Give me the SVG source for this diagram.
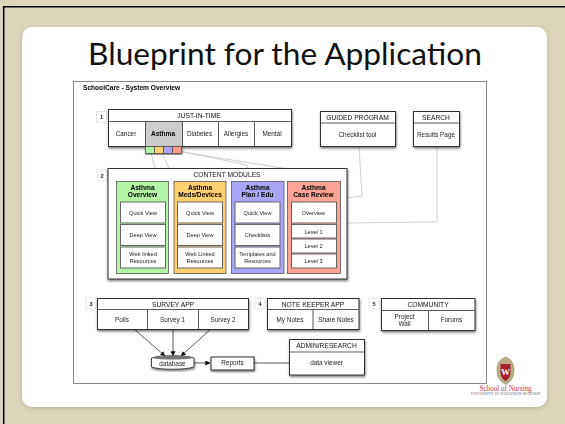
<svg xmlns="http://www.w3.org/2000/svg" width="565" height="424" viewBox="0 0 565 424">
<style>
text{font-family:"Liberation Sans",Arial,sans-serif;fill:#111;text-anchor:middle}
.t{font-size:6.7px}.s{font-size:5.6px;fill:#222}.m{font-size:6.4px;fill:#222}.b{font-size:6.6px;font-weight:bold;fill:#000}
.box{fill:#fff;stroke:#333;stroke-width:1}
.sh{filter:url(#ds)}
.in{fill:#fff;stroke:#666;stroke-width:1}
.ln{fill:none;stroke:#333;stroke-width:.8}
.cn{fill:none;stroke:#c4c4c4;stroke-width:.8}
.badge{fill:#fff;stroke:#ddd;stroke-width:.8}
</style>
<defs>
<filter id="ds" x="-10%" y="-10%" width="120%" height="130%"><feDropShadow dx="0.5" dy="1.5" stdDeviation="1" flood-color="#000" flood-opacity=".55"/></filter>
<filter id="card" x="-5%" y="-5%" width="110%" height="110%"><feDropShadow dx="0" dy="1" stdDeviation="2.5" flood-color="#8d8672" flood-opacity=".5"/></filter>
<filter id="soft"><feGaussianBlur stdDeviation=".25"/></filter>
<marker id="ah" viewBox="0 0 8 8" refX="7.5" refY="4" markerWidth="5" markerHeight="5" markerUnits="userSpaceOnUse" orient="auto"><path d="M0 0L8 4L0 8z" fill="#111"/></marker>
</defs>
<rect width="565" height="424" fill="#ddd6bd"/>
<path d="M3.700 424V6.700H565" fill="none" stroke="#000" stroke-width="1.500"/>
<rect x="22" y="27" width="525" height="380" rx="10" fill="#fff" filter="url(#card)"/>
<text x="285" y="65" style="font-family:Lato,'Open Sans',sans-serif;font-size:30px;fill:#111" textLength="394" lengthAdjust="spacingAndGlyphs">Blueprint for the Application</text>
<g filter="url(#soft)">
<rect id="frame" x="73.500" y="81.500" width="413" height="302" fill="#fff" stroke="#888" stroke-width="1"/>
<text x="83" y="90" class="b" style="text-anchor:start">SchoolCare - System Overview</text>
<g id="connectors">
<path class="cn" d="M151 153L157 176L155 181"/>
<path class="cn" d="M162 153L175 181"/>
<path class="cn" d="M180 151L247 165L248 181"/>
<path class="cn" d="M182 152L326 175L325 181"/>
<path class="cn" d="M359 146L362 196L347 198"/>
<path class="cn" d="M437 146V222L347 223"/>
<path class="ln" d="M134 329L165 356" marker-end="url(#ah)"/>
<path class="ln" d="M173 329V356" marker-end="url(#ah)"/>
<path class="ln" d="M211 329L181 356" marker-end="url(#ah)"/>
<path class="ln" d="M194 363H210" marker-end="url(#ah)"/>
<path class="ln" d="M254 363H289"/>
</g>
<g id="just-in-time">
<rect class="badge" x="96.500" y="111.500" width="10" height="11"/><text class="s" x="101.500" y="119" style="font-weight:bold">1</text>
<rect class="box sh" x="108.500" y="109.500" width="183" height="37"/>
<rect x="145.500" y="121.500" width="37" height="25" fill="#ccc"/>
<path class="ln" d="M108.500 121.500H291.500M145.500 121.500V146.500M182.500 121.500V146.500M218.500 121.500V146.500M254.500 121.500V146.500"/>
<text class="t" x="199" y="117.800">JUST-IN-TIME</text>
<text class="m" x="126" y="135.700">Cancer</text><text class="b" x="163" y="135.700">Asthma</text><text class="m" x="199.500" y="135.700">Diabetes</text><text class="m" x="236" y="135.700">Allergies</text><text class="m" x="272" y="135.700">Mental</text>
<g class="sh"><rect x="145.500" y="146.500" width="9" height="7" fill="#b0f2a0" stroke="#444" stroke-width=".7"/><rect x="154.500" y="146.500" width="9" height="7" fill="#ffcf70" stroke="#444" stroke-width=".7"/><rect x="163.500" y="146.500" width="9" height="7" fill="#aba6f5" stroke="#444" stroke-width=".7"/><rect x="172.500" y="146.500" width="9" height="7" fill="#ff9c90" stroke="#444" stroke-width=".7"/></g>
</g>
<g id="guided-program">
<rect class="box sh" x="320.500" y="111.500" width="75" height="35"/><path class="ln" d="M320.500 123H395.500"/>
<text class="t" x="357.500" y="119.800">GUIDED PROGRAM</text><text class="m" x="357.500" y="136.700">Checklist tool</text>
</g>
<g id="search">
<rect class="box sh" x="413.500" y="111.500" width="46" height="35"/><path class="ln" d="M413.500 123H459.500"/>
<text class="t" x="436" y="119.800">SEARCH</text><text class="m" x="436" y="136.700">Results Page</text>
</g>
<g id="content-modules">
<rect class="badge" x="97" y="170" width="10" height="11"/><text class="s" x="102" y="177.500" style="font-weight:bold">2</text>
<rect class="box sh" x="108" y="168.500" width="239" height="110.500"/>
<text class="t" x="227" y="176.800">CONTENT MODULES</text>
</g>
<g id="asthma-overview">
<rect x="116.500" y="181.500" width="52" height="92" fill="#b3f5a5" stroke="#555" stroke-width=".8"/>
<text class="b" x="142.500" y="189.500">Asthma</text><text class="b" x="142.500" y="197">Overview</text>
<rect class="in" x="120.500" y="202" width="45" height="21"/><text class="s" x="143" y="214.500">Quick View</text>
<rect class="in" x="120.500" y="224.500" width="45" height="21"/><text class="s" x="143" y="237">Deep View</text>
<rect class="in" x="120.500" y="247" width="45" height="21"/><text class="s" x="143" y="256">Web linked</text><text class="s" x="143" y="263">Resources</text>
</g>
<g id="asthma-meds">
<rect x="174" y="181.500" width="52" height="92" fill="#ffd071" stroke="#555" stroke-width=".8"/>
<text class="b" x="200" y="189.500">Asthma</text><text class="b" x="200" y="197">Meds/Devices</text>
<rect class="in" x="177.500" y="202" width="45" height="21"/><text class="s" x="200" y="214.500">Quick View</text>
<rect class="in" x="177.500" y="224.500" width="45" height="21"/><text class="s" x="200" y="237">Deep View</text>
<rect class="in" x="177.500" y="247" width="45" height="21"/><text class="s" x="200" y="256">Web Linked</text><text class="s" x="200" y="263">Resources</text>
</g>
<g id="asthma-plan">
<rect x="231.500" y="181.500" width="52.500" height="92" fill="#aaa6f7" stroke="#555" stroke-width=".8"/>
<text class="b" x="257.500" y="189.500">Asthma</text><text class="b" x="257.500" y="197">Plan / Edu</text>
<rect class="in" x="235" y="202" width="45" height="21"/><text class="s" x="257.500" y="214.500">Quick View</text>
<rect class="in" x="235" y="224.500" width="45" height="21"/><text class="s" x="257.500" y="237">Checklists</text>
<rect class="in" x="235" y="247" width="45" height="21"/><text class="s" x="257.500" y="256">Templates and</text><text class="s" x="257.500" y="263">Resources</text>
</g>
<g id="asthma-case-review">
<rect x="287.500" y="181.500" width="53" height="92" fill="#ffa396" stroke="#555" stroke-width=".8"/>
<text class="b" x="313.500" y="189.500">Asthma</text><text class="b" x="313.500" y="197">Case Review</text>
<rect class="in" x="291.500" y="202" width="45" height="21"/><text class="s" x="313.500" y="214.500">Overview</text>
<rect class="in" x="291.500" y="224.500" width="45" height="13.500"/><text class="s" x="313.500" y="233.500">Level 1</text>
<rect class="in" x="291.500" y="239" width="45" height="14"/><text class="s" x="313.500" y="248">Level 2</text>
<rect class="in" x="291.500" y="254" width="45" height="14"/><text class="s" x="313.500" y="263">Level 3</text>
</g>
<g id="survey-app">
<rect class="badge" x="86" y="298" width="10" height="11"/><text class="s" x="91" y="305.500" style="font-weight:bold">3</text>
<rect class="box sh" x="97.500" y="298.500" width="151" height="31"/><path class="ln" d="M97.500 309.500H248.500M147.500 309.500V329.500M198.500 309.500V329.500"/>
<text class="t" x="173" y="306.500">SURVEY APP</text><text class="m" x="122" y="321.500">Polls</text><text class="m" x="172.500" y="321.500">Survey 1</text><text class="m" x="223" y="321.500">Survey 2</text>
</g>
<g id="note-keeper-app">
<rect class="badge" x="255" y="298" width="10" height="11"/><text class="s" x="260" y="305.500" style="font-weight:bold">4</text>
<rect class="box sh" x="267.500" y="298.500" width="91.500" height="31"/><path class="ln" d="M267.500 309.500H359M313 309.500V329.500"/>
<text class="t" x="313" y="306.500">NOTE KEEPER APP</text><text class="m" x="290" y="321.500">My Notes</text><text class="m" x="336" y="321.500">Share Notes</text>
</g>
<g id="community">
<rect class="badge" x="369" y="298" width="10" height="11"/><text class="s" x="374" y="305.500" style="font-weight:bold">5</text>
<rect class="box sh" x="381.500" y="298.500" width="93.500" height="32"/><path class="ln" d="M381.500 310.500H475M428.500 310.500V330.500"/>
<text class="t" x="428" y="306.800">COMMUNITY</text><text class="m" x="404.500" y="318.500">Project</text><text class="m" x="404.500" y="325.500">Wall</text><text class="m" x="451.500" y="322">Forums</text>
</g>
<g id="admin-research">
<rect class="box sh" x="289.500" y="339.500" width="75" height="35.500"/><path class="ln" d="M289.500 352H364.500"/>
<text class="t" x="326.500" y="347.800">ADMIN/RESEARCH</text><text class="m" x="326.500" y="365">data viewer</text>
</g>
<g id="database">
<path class="box sh" d="M151.500 358C160 355 185 355 194 358V367C185 370 160 370 151.500 367Z" style="stroke-width:.9"/>
<path d="M151.500 358C160 355 185 355 194 358C185 360 160 360 151.500 358Z" fill="#777"/>
<text class="m" x="172.500" y="365.800">database</text>
</g>
<g id="reports">
<rect class="box sh" x="211" y="357" width="43" height="13"/><text class="m" x="232.500" y="365.300">Reports</text>
</g>
</g>
<g id="logo">
<path d="M505.500 357C510 359 514 362 514 370C514 378 510 382 505.500 384.500C501 382 497 378 497 370C497 362 501 359 505.500 357Z" fill="#b9ab85" stroke="#978a68" stroke-width=".6"/>
<path d="M500.500 364H510.500V372C510.500 377 508 379.500 505.500 381C503 379.500 500.500 377 500.500 372Z" fill="#a81f2e"/>
<text x="505.500" y="375" style="font-family:'Liberation Serif',serif;font-size:9px;font-weight:bold;fill:#fff">W</text>
<text x="505.500" y="391" style="font-family:'Liberation Serif',serif;font-size:8.500px;fill:#c5364b" textLength="52" lengthAdjust="spacingAndGlyphs">School of Nursing</text>
<text x="505.500" y="395.300" style="font-family:'Liberation Serif',serif;font-size:3.200px;fill:#555" textLength="69" lengthAdjust="spacing">UNIVERSITY OF WISCONSIN-MADISON</text>
</g>
</svg>
